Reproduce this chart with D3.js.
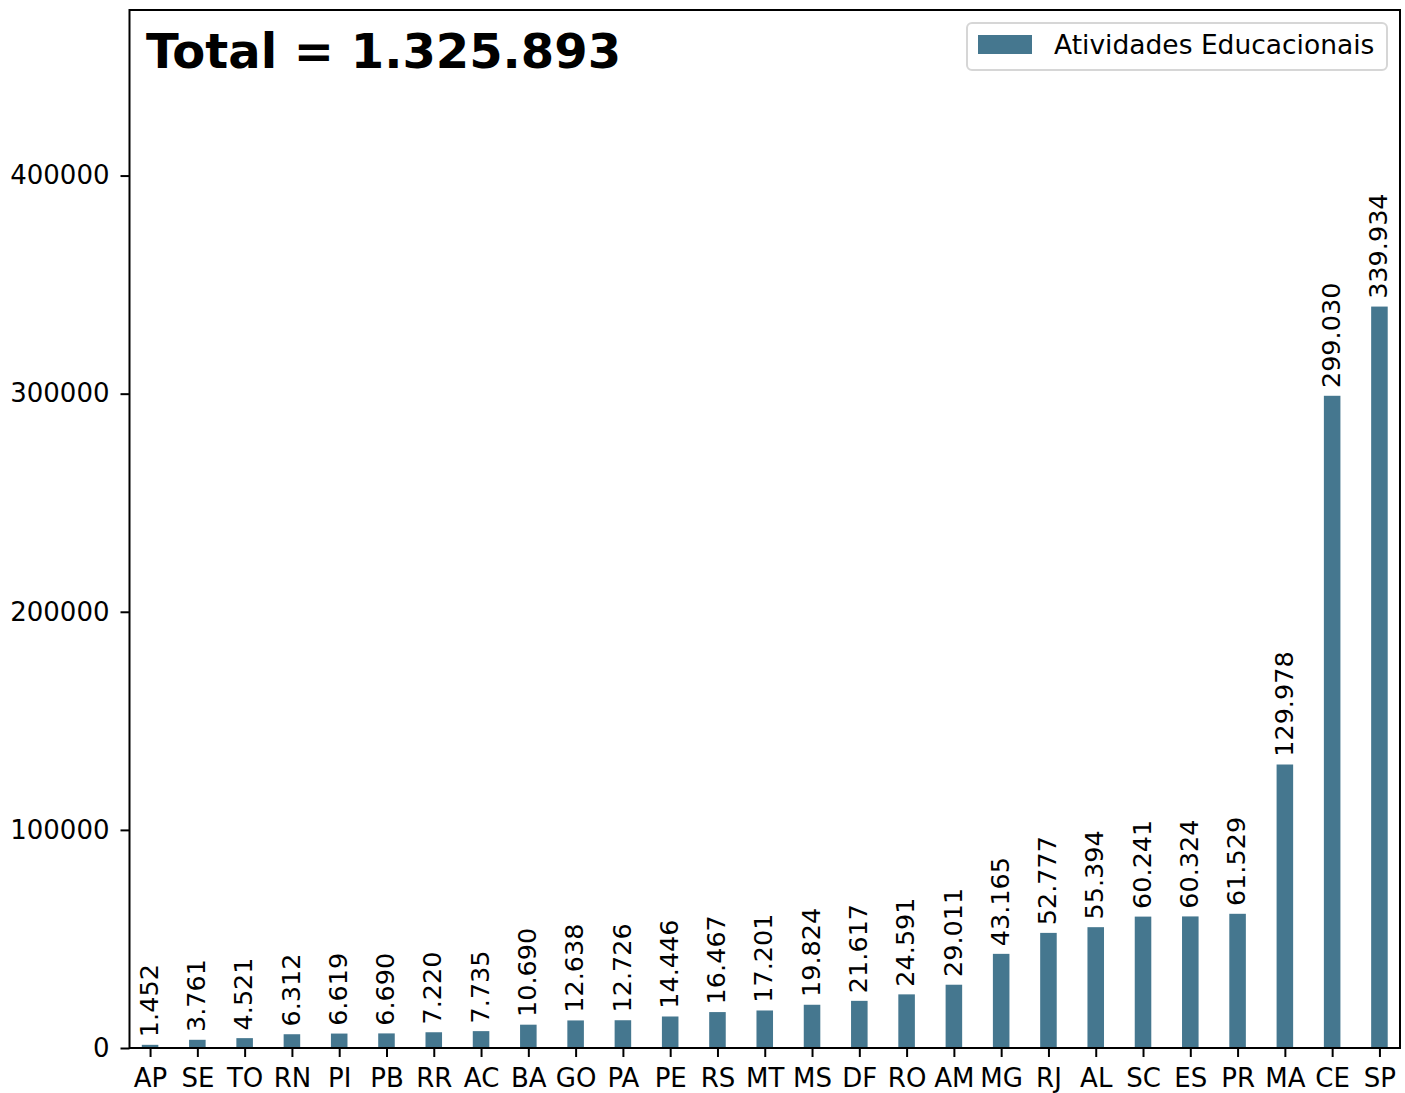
<!DOCTYPE html>
<html>
<head>
<meta charset="utf-8">
<script src="https://cdn.jsdelivr.net/npm/d3@7"></script>
<style>
  html, body { margin: 0; padding: 0; background: #fff; }
  svg { display: block; font-family: "DejaVu Sans", sans-serif; }
</style>
</head>
<body>
<div id="chart"></div>
<script>
// Data
const states = ["AP", "SE", "TO", "RN", "PI", "PB", "RR", "AC", "BA", "GO", "PA", "PE", "RS", "MT",
                "MS", "DF", "RO", "AM", "MG", "RJ", "AL", "SC", "ES", "PR", "MA", "CE", "SP"];
const atividades = [1452, 3761, 4521, 6312, 6619, 6690, 7220, 7735, 10690, 12638, 12726, 14446, 16467, 17201,
                    19824, 21617, 24591, 29011, 43165, 52777, 55394, 60241, 60324, 61529, 129978, 299030, 339934];
const yTicks = [0, 100000, 200000, 300000, 400000];
const seriesName = "Atividades Educacionais";

document.addEventListener('DOMContentLoaded', function() {
    const width = 1405, height = 1093;
    const margin = { top: 10, right: 5, bottom: 45, left: 129.5 };
    const barColor = "#45778f";
    const fontSize = 26;

    // pt-BR style number formatting (dot as thousands separator)
    const ptBR = d3.formatLocale({ decimal: ",", thousands: ".", grouping: [3], currency: ["R$", ""] });
    const fmt = ptBR.format(",d");

    const svg = d3.select("#chart").append("svg")
        .attr("width", width)
        .attr("height", height);

    const x = d3.scalePoint()
        .domain(states)
        .range([margin.left, width - margin.right])
        .padding(0.435);
    const barWidth = x.step() * 0.35;

    const y = d3.scaleLinear()
        .domain([0, d3.max(atividades) * 1.4])
        .range([height - margin.bottom, margin.top]);

    // Bars
    svg.append("g")
        .selectAll("rect")
        .data(atividades)
        .join("rect")
        .attr("x", (d, i) => x(states[i]) - barWidth / 2)
        .attr("y", d => y(d))
        .attr("width", barWidth)
        .attr("height", d => y(0) - y(d))
        .attr("fill", barColor);

    // Value labels, rotated, 3pt above each bar
    svg.append("g")
        .selectAll("text")
        .data(atividades)
        .join("text")
        .attr("transform", (d, i) => `translate(${x(states[i]) - 1.5},${y(d) - 7.7}) rotate(-90)`)
        .attr("dy", "0.36em")
        .attr("text-anchor", "start")
        .style("font-size", "25.5px")
        .text(d => fmt(d));

    // Axes
    const xAxis = svg.append("g")
        .attr("transform", `translate(0,${height - margin.bottom})`)
        .call(d3.axisBottom(x).tickSize(9).tickPadding(12));
    const yAxis = svg.append("g")
        .attr("transform", `translate(${margin.left},0)`)
        .call(d3.axisLeft(y).tickValues(yTicks).tickFormat(d3.format("d")).tickSize(9).tickPadding(11));

    [xAxis, yAxis].forEach(a => {
        a.select(".domain").remove();
        a.selectAll(".tick line").attr("stroke", "#000").attr("stroke-width", 2);
        a.selectAll(".tick text")
            .attr("fill", "#000")
            .style("font-size", fontSize + "px")
            .style("font-family", "DejaVu Sans");
    });

    // Frame
    svg.append("rect")
        .attr("x", margin.left)
        .attr("y", margin.top)
        .attr("width", width - margin.right - margin.left)
        .attr("height", height - margin.bottom - margin.top)
        .attr("fill", "none")
        .attr("stroke", "#000")
        .attr("stroke-width", 2);

    // Title with the total
    svg.append("text")
        .attr("x", 146)
        .attr("y", 68)
        .style("font-size", "48px")
        .style("font-weight", "bold")
        .text("Total = " + fmt(d3.sum(atividades)));

    // Legend
    const legend = svg.append("g").attr("transform", "translate(967,23)");
    legend.append("rect")
        .attr("width", 420)
        .attr("height", 47)
        .attr("rx", 5)
        .attr("fill", "#fff")
        .attr("fill-opacity", 0.8)
        .attr("stroke", "#d6d6d6")
        .attr("stroke-width", 2);
    legend.append("rect")
        .attr("x", 11)
        .attr("y", 12)
        .attr("width", 54)
        .attr("height", 19)
        .attr("fill", barColor);
    legend.append("text")
        .attr("x", 87)
        .attr("y", 31)
        .style("font-size", "26.5px")
        .text(seriesName);
});
</script>
</body>
</html>
